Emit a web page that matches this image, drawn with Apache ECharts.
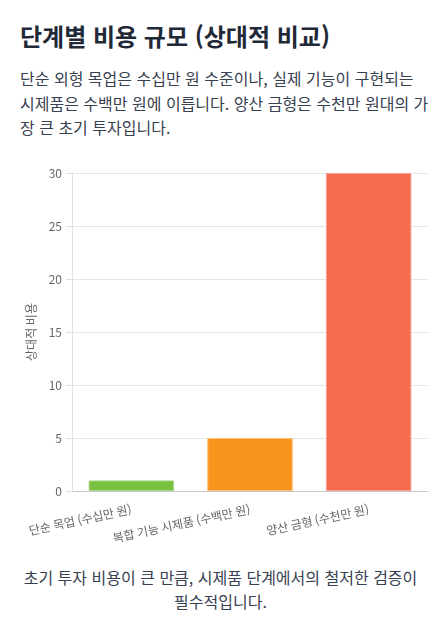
<!DOCTYPE html>
<html lang="ko">
<head>
<meta charset="utf-8">
<title>단계별 비용 규모</title>
<script src="https://cdn.jsdelivr.net/npm/echarts@6/dist/echarts.min.js"></script>
<style>
  html, body {
    margin: 0;
    padding: 0;
    background: #fff;
    font-family: "Noto Sans CJK KR", "Noto Sans", sans-serif;
  }
  .page {
    position: relative;
    width: 441px;
    height: 623px;
    overflow: hidden;
  }
  .title {
    position: absolute;
    left: 20px;
    top: 21px;
    margin: 0;
    font-size: 24px;
    line-height: 30px;
    font-weight: 700;
    color: #1f2937;
  }
  .desc {
    position: absolute;
    left: 20px;
    right: 12px;
    top: 66px;
    margin: 0;
    font-size: 16px;
    line-height: 24.5px;
    color: #374151;
    word-break: break-all;
  }
  #chart {
    position: absolute;
    left: 0;
    top: 150px;
    width: 441px;
    height: 400px;
  }
  .note {
    position: absolute;
    left: 20px;
    right: 20px;
    top: 566px;
    margin: 0;
    text-align: center;
    font-size: 16px;
    line-height: 23.5px;
    color: #374151;
  }
</style>
</head>
<body>
<div class="page">
  <h2 class="title">단계별 비용 규모 (상대적 비교)</h2>
  <p class="desc">단순 외형 목업은 수십만 원 수준이나, 실제 기능이 구현되는 시제품은 수백만 원에 이릅니다. 양산 금형은 수천만 원대의 가장 큰 초기 투자입니다.</p>
  <div id="chart"></div>
  <p class="note">초기 투자 비용이 큰 만큼, 시제품 단계에서의 철저한 검증이 필수적입니다.</p>
</div>
<script>
const categories = ['단순 목업 (수십만 원)', '복합 기능 시제품 (수백만 원)', '양산 금형 (수천만 원)']
const costValues = [1, 5, 30]
const yTicks = { min: 0, max: 30, interval: 5 }
const barColors = ['#7ac142', '#f7941d', '#f36c4f']
const barBorders = ['#a9d88a', '#fbbf7a', '#f8a493']

const chart = echarts.init(document.getElementById('chart'))
const option = {
  animation: false,
  textStyle: {
    fontFamily: '"Noto Sans CJK KR", "Noto Sans", sans-serif'
  },
  grid: {
    left: 72,
    right: 13,
    top: 23,
    bottom: 59
  },
  xAxis: {
    type: 'category',
    data: categories,
    axisLine: {
      lineStyle: { color: '#c8c8c8' }
    },
    axisTick: { show: false },
    axisLabel: {
      interval: 0,
      rotate: 12,
      margin: 18,
      fontSize: 12,
      color: '#666'
    },
    splitLine: { show: false }
  },
  yAxis: {
    type: 'value',
    min: yTicks.min,
    max: yTicks.max,
    interval: yTicks.interval,
    name: '상대적 비용',
    nameLocation: 'middle',
    nameGap: 26,
    nameTextStyle: {
      fontSize: 12,
      color: '#666'
    },
    axisLine: {
      show: true,
      lineStyle: { color: '#e0e0e0' }
    },
    axisTick: {
      show: true,
      length: 6,
      lineStyle: { color: '#e0e0e0' }
    },
    axisLabel: {
      fontSize: 12,
      color: '#666',
      margin: 10
    },
    splitLine: {
      lineStyle: { color: '#e5e5e5' }
    }
  },
  series: [
    {
      type: 'bar',
      barWidth: '72%',
      data: costValues.map((v, i) => ({
        value: v,
        itemStyle: {
          color: barColors[i],
          borderColor: barBorders[i],
          borderWidth: 1
        }
      }))
    }
  ]
}
option && chart.setOption(option)
window.addEventListener('resize', () => chart.resize())
</script>
</body>
</html>
